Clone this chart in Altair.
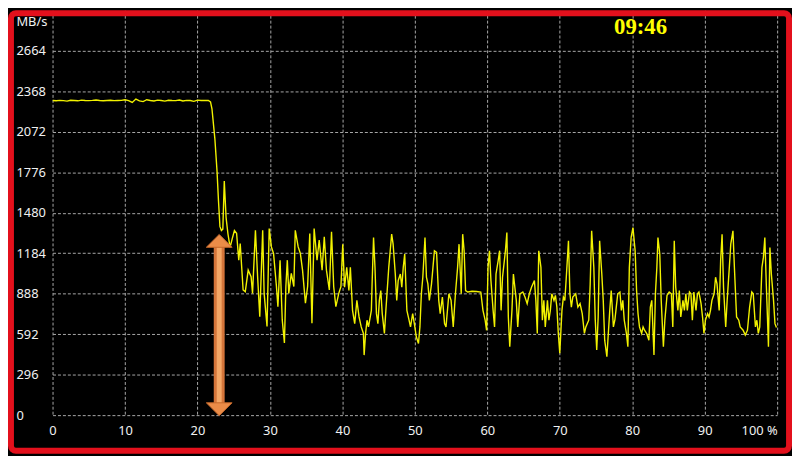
import altair as alt
import pandas as pd

# ---------------- data ----------------
PLATEAU_PCT = [0, 0.5, 1, 1.5, 2, 2.5, 3, 3.5, 4, 4.5, 5, 5.5, 6, 6.5, 7, 7.5, 8, 8.5,
               9, 9.5, 10, 10.5, 11, 11.5, 12, 12.5, 13, 13.5, 14, 14.5, 15, 15.5,
               16, 16.5, 17, 17.5, 18, 18.5, 19, 19.5, 20, 20.5, 21, 21.5]
PLATEAU_MBPS = [2300, 2298, 2301, 2299, 2296, 2302, 2300, 2298, 2303, 2300,
                2299, 2301, 2304, 2300, 2298, 2300, 2302, 2299, 2300, 2301,
                2306, 2300, 2286, 2311, 2298, 2292, 2306, 2300, 2297, 2303,
                2300, 2296, 2302, 2300, 2299, 2304, 2297, 2301, 2300, 2294,
                2303, 2300, 2301, 2300]

DROP = [(21.8, 2290), (22.0, 2240), (22.4, 2022), (22.7, 1783), (22.9, 1567),
        (23.1, 1380), (23.3, 1350), (23.5, 1360), (23.7, 1711), (23.95, 1444),
        (24.2, 1328), (24.5, 1227), (24.8, 1290), (25.1, 1350), (25.4, 1330)]

SWEEP_25_40 = [(25.7, 1133), (25.9, 1254), (26.3, 915), (26.6, 903), (27.0, 1060),
               (27.4, 1012), (27.6, 890), (28.0, 1351), (28.3, 1012), (28.6, 720),
               (29.0, 1351), (29.2, 890), (29.6, 648), (29.9, 1364), (30.2, 1230),
               (30.5, 1182), (30.9, 940), (31.1, 793), (31.4, 1133), (31.7, 696),
               (32.0, 527), (32.2, 940), (32.4, 1133), (32.6, 890), (32.95, 1036),
               (33.3, 940), (33.5, 1351), (33.9, 1230), (34.2, 1182), (34.5, 1060),
               (34.9, 818), (35.2, 940), (35.5, 1327), (35.8, 672), (36.1, 1364),
               (36.5, 1133), (36.8, 1279), (37.2, 1060), (37.5, 1303), (37.8, 1060),
               (38.2, 915), (38.5, 1340), (38.8, 940), (39.1, 793), (39.5, 890),
               (39.8, 940)]

SWEEP_40_60 = [(40.05, 1250), (40.3, 935), (40.6, 1080), (40.9, 911), (41.1, 1080),
               (41.4, 766), (41.7, 669), (42.0, 839), (42.3, 718), (42.6, 645),
               (42.9, 597), (43.0, 439), (43.2, 597), (43.4, 694), (43.6, 645),
               (44.0, 766), (44.1, 960), (44.3, 1298), (44.5, 1080), (44.7, 742),
               (44.9, 669), (45.1, 839), (45.3, 911), (45.5, 742), (45.8, 597),
               (46.0, 766), (46.4, 1080), (46.6, 1202), (46.8, 1323), (47.0, 1250),
               (47.3, 1032), (47.5, 839), (47.7, 984), (48.0, 1032), (48.2, 935),
               (48.4, 1080), (48.6, 1178), (48.9, 766), (49.2, 694), (49.4, 645),
               (49.7, 742), (50.0, 645), (50.2, 573), (50.5, 524), (50.7, 645),
               (50.9, 887), (51.1, 1008), (51.4, 1298), (51.6, 1008), (51.8, 960),
               (52.0, 839), (52.3, 960), (52.5, 1080), (52.7, 1202), (53.0, 1190),
               (53.3, 839), (53.5, 742), (53.8, 863), (54.1, 669), (54.3, 645),
               (54.7, 887), (55.0, 839), (55.3, 645), (55.6, 887), (55.9, 1080),
               (56.1, 1250), (56.4, 887), (56.6, 1323), (56.8, 1202), (57.0, 911),
               (57.3, 900), (57.9, 906), (58.5, 904), (59.1, 900), (59.4, 766),
               (59.7, 694), (59.9, 620)]

SWEEP_60_80 = [(60.1, 1080), (60.3, 1202), (60.5, 984), (60.8, 766), (61.0, 645),
               (61.2, 1032), (61.5, 1129), (61.7, 1202), (61.9, 766), (62.1, 1008),
               (62.5, 1202), (62.7, 1335), (62.9, 718), (63.1, 500), (63.4, 766),
               (63.6, 1032), (64.0, 839), (64.2, 645), (64.5, 887), (64.9, 900),
               (65.2, 863), (65.5, 815), (65.8, 887), (66.1, 935), (66.5, 984),
               (66.7, 839), (66.9, 597), (67.1, 1202), (67.4, 1080), (67.6, 694),
               (67.8, 839), (68.0, 645), (68.3, 839), (68.5, 694), (68.7, 766),
               (68.9, 887), (69.2, 839), (69.4, 875), (69.6, 790), (69.8, 597),
               (70.0, 452), (70.3, 766), (70.5, 863), (70.7, 839), (70.9, 1008),
               (71.2, 1274), (71.4, 887), (71.6, 790), (71.8, 863), (72.2, 887),
               (72.5, 790), (72.8, 815), (73.1, 742), (73.4, 597), (73.6, 645),
               (74.0, 694), (74.2, 960), (74.4, 1347), (74.7, 1080), (74.9, 694),
               (75.1, 476), (75.3, 718), (75.5, 1274), (75.8, 1032), (76.0, 839),
               (76.2, 548), (76.5, 427), (76.7, 597), (76.9, 766), (77.1, 911),
               (77.4, 645), (77.6, 694), (77.8, 790), (78.0, 887), (78.3, 900),
               (78.5, 766), (78.7, 839), (78.9, 694), (79.2, 597), (79.4, 500),
               (79.6, 1080), (79.85, 1300)]

SWEEP_80_100 = [(80.1, 1371), (80.4, 1202), (80.6, 911), (80.8, 742), (81.0, 645),
                (81.3, 597), (81.5, 645), (81.7, 621), (82.0, 597), (82.3, 548),
                (82.5, 790), (82.7, 839), (83.0, 439), (83.2, 887), (83.4, 1080),
                (83.55, 1298), (83.8, 1178), (84.0, 839), (84.3, 500), (84.5, 694),
                (84.8, 875), (85.1, 900), (85.4, 887), (85.6, 645), (85.8, 1274),
                (86.0, 935), (86.3, 766), (86.5, 911), (86.7, 718), (87.0, 839),
                (87.2, 766), (87.4, 887), (87.6, 766), (87.9, 900), (88.1, 887),
                (88.3, 694), (88.5, 900), (88.8, 766), (89.0, 887), (89.2, 900),
                (89.5, 815), (89.7, 718), (89.9, 597), (90.1, 694), (90.4, 742),
                (90.6, 718), (90.8, 766), (91.0, 839), (91.3, 887), (91.5, 1008),
                (91.7, 960), (92.0, 766), (92.2, 1129), (92.4, 1323), (92.6, 935),
                (92.9, 645), (93.1, 839), (93.4, 1080), (93.6, 1250), (93.9, 1347),
                (94.1, 1080), (94.4, 718), (94.7, 694), (94.9, 645), (95.3, 621),
                (95.6, 585), (95.9, 621), (96.2, 790), (96.5, 900), (96.7, 887),
                (97.0, 645), (97.2, 694), (97.4, 597), (97.6, 645), (97.9, 1080),
                (98.1, 1153), (98.3, 1298), (98.5, 960), (98.8, 500), (99.0, 1226),
                (99.2, 1032), (99.5, 839), (99.7, 669), (99.9, 640)]

Y_TICKS = [0, 296, 592, 888, 1184, 1480, 1776, 2072, 2368, 2664]
X_TICKS = [0, 10, 20, 30, 40, 50, 60, 70, 80, 90, 100]
Y_MAX = 2960
UNIT = "MB/s"
TIME_LABEL = "09:46"

# annotation arrow (percent position, shaft ends, head centres in MB/s)
ARROW_PCT = [23.0]
ARROW_SHAFT = [(80, 1240)]
ARROW_HEADS = [(1274, "up"), (43, "down")]

# ---------------- build tables ----------------
rows = [{"pct": p, "mbps": m} for p, m in zip(PLATEAU_PCT, PLATEAU_MBPS)]
for seg in (DROP, SWEEP_25_40, SWEEP_40_60, SWEEP_60_80, SWEEP_80_100):
    rows += [{"pct": p, "mbps": m} for p, m in seg]
df = pd.DataFrame(rows)

shaft_df = pd.DataFrame([{"pct": ARROW_PCT[0], "mbps": lo, "hi": hi} for lo, hi in ARROW_SHAFT])
heads_df = pd.DataFrame([{"pct": ARROW_PCT[0], "mbps": v, "dir": d} for v, d in ARROW_HEADS])
time_df = pd.DataFrame({"t": [TIME_LABEL]})
frame_df = pd.DataFrame({"k": [1]})

W, H = 732, 409
GRID = "#a8a8a8"
LABEL = "#f0f0f0"
FONT = "Noto Sans"

x_scale = alt.Scale(domain=[0, 100], nice=False, zero=False)
y_scale = alt.Scale(domain=[0, Y_MAX], nice=False)

x_axis = alt.Axis(
    values=X_TICKS, grid=True, gridDash=[3, 2], gridColor=GRID, gridWidth=1, gridOpacity=1,
    domain=False, ticks=False, tickSize=0, labelPadding=10, labelColor=LABEL,
    labelFont=FONT, labelFontSize=13, labelFlush=False, labelOverlap=False,
    format="d",
    labelExpr="datum.value == 100 ? '100 %' : datum.label",
    labelAlign={"condition": {"test": "datum.value == 100", "value": "right"}, "value": "center"},
    title=None,
)
y_axis = alt.Axis(
    values=Y_TICKS, grid=True, gridDash=[3, 2], gridColor=GRID, gridWidth=1, gridOpacity=1,
    domain=False, ticks=False, tickSize=0, labelAlign="left", labelBaseline="middle",
    labelPadding=37, labelColor=LABEL, labelFont=FONT, labelFontSize=13,
    labelOverlap=False, labelFlush=False, format="d",
    title=UNIT, titleAngle=0, titleAlign="left", titleBaseline="middle",
    titleX=-37, titleY=11, titleFont=FONT, titleFontSize=13, titleFontWeight="normal",
    titleColor=LABEL,
)

X_ENC = alt.X("pct:Q", scale=x_scale, axis=x_axis)
Y_ENC = alt.Y("mbps:Q", scale=y_scale, axis=y_axis)

line = alt.Chart(df).mark_line(color="#f2f200", strokeWidth=1.4, clip=True).encode(
    x=X_ENC, y=Y_ENC,
)

shaft_outer = alt.Chart(shaft_df).mark_rule(color="#d5753a", strokeWidth=11, strokeCap="butt").encode(
    x=X_ENC, y=Y_ENC, y2="hi:Q",
)
shaft_inner = alt.Chart(shaft_df).mark_rule(color="#f4a766", strokeWidth=5, strokeCap="butt").encode(
    x=X_ENC, y=Y_ENC, y2="hi:Q",
)

UP = "M0,-0.5L1,0.5L-1,0.5Z"
DOWN = "M0,0.5L1,-0.5L-1,-0.5Z"
heads = alt.Chart(heads_df).mark_point(
    filled=True, size=676, fill="#eb8c48", stroke="#c4672a", strokeWidth=1, opacity=1
).encode(
    x=X_ENC, y=Y_ENC,
    shape=alt.Shape("dir:N", scale=alt.Scale(domain=["up", "down"], range=[UP, DOWN]), legend=None),
)

time_text = alt.Chart(time_df).mark_text(
    font="Liberation Serif", fontWeight="bold", fontSize=23, color="#ffff00",
    align="center", baseline="middle",
).encode(text="t:N", x=alt.value(594), y=alt.value(17))

frame = alt.Chart(frame_df).mark_rect(
    fill="transparent", stroke="#e3101c", strokeWidth=6, cornerRadius=5
).encode(x=alt.value(-42), x2=alt.value(744), y=alt.value(3), y2=alt.value(445))

chart = alt.layer(line, shaft_outer, shaft_inner, heads, time_text, frame).properties(
    width=W, height=H,
    autosize=alt.AutoSizeParams(type="none"),
    padding={"left": 45, "top": 0, "right": 15, "bottom": 39},
    background="#000000",
).configure_view(strokeWidth=0)

chart.save("out.html", embed_options={"renderer": "svg", "actions": False})
